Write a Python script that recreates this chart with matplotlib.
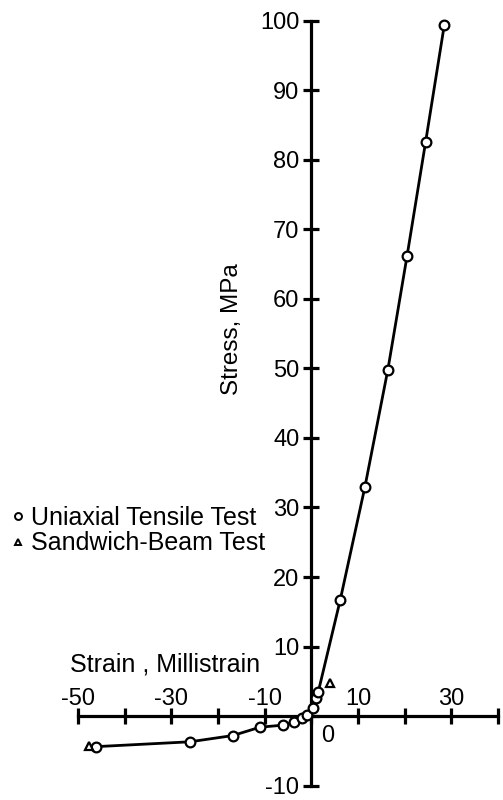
import numpy as np
import matplotlib
matplotlib.use("Agg")
import matplotlib.pyplot as plt
from matplotlib.lines import Line2D

plt.rcParams['font.family'] = ['Liberation Sans', 'DejaVu Sans']

# uniaxial tensile test (circles)
uni_strain = [-46.2, -26.0, -16.8, -11.0, -6.0, -3.8, -2.1, -1.0, 0.4, 1.1, 1.5,
              6.2, 11.5, 16.4, 20.5, 24.5, 28.5]
uni_stress = [-4.4, -3.7, -2.8, -1.6, -1.3, -0.9, -0.3, 0.2, 1.2, 2.6, 3.5,
              16.7, 33.0, 49.8, 66.1, 82.6, 99.4]

# sandwich-beam test (triangles)
beam_strain = [-47.6, 4.0]
beam_stress = [-4.3, 4.8]

xticks = [-50, -40, -30, -20, -10, 0, 10, 20, 30, 40]
xlabeled = [-50, -30, -10, 10, 30]
yticks = [-10, 0, 10, 20, 30, 40, 50, 60, 70, 80, 90, 100]
ylabeled = [-10, 10, 20, 30, 40, 50, 60, 70, 80, 90, 100]

fig = plt.figure(figsize=(5.03, 8), dpi=100)
ax = fig.add_axes([0.155, 0.018, 0.835, 0.956])
ax.set_xlim(-50, 40)
ax.set_ylim(-10, 100)

lw = 2.3
for s in ['left', 'bottom', 'top']:
    ax.spines[s].set_position(('data', 0))
    ax.spines[s].set_linewidth(lw)
ax.spines['top'].set_visible(False)
ax.spines['right'].set_visible(False)

ax.set_xticks(xticks)
ax.tick_params(axis='x', bottom=True, top=True, labelbottom=False, labeltop=True,
               direction='inout', width=lw, length=11, labelsize=17, pad=-1)
ax.set_xticklabels([str(t) if t in xlabeled else '' for t in xticks])
for t in ax.xaxis.get_major_ticks():
    t.tick2line.set_visible(False)

ax.set_yticks(yticks)
ax.set_yticklabels([str(t) if t in ylabeled else '' for t in yticks])
ax.tick_params(axis='y', direction='inout', width=lw, length=11, labelsize=17, pad=3)

ax.annotate('0', xy=(0, 0), xytext=(11.5, -14.5), textcoords='offset points',
            ha='center', va='center', fontsize=17)

ax.plot(uni_strain, uni_stress, color='black', lw=2, marker='o', ms=7,
        mfc='white', mec='black', mew=1.6, clip_on=False, zorder=3)
ax.plot(beam_strain, beam_stress, ls='none', marker='^', ms=6,
        mfc='white', mec='black', mew=1.6, clip_on=False, zorder=4)

ax.set_xlabel('Strain , Millistrain', fontsize=18, va='center')
ax.xaxis.set_label_coords(-31.3, 7.4, transform=ax.transData)
ax.set_ylabel('Stress, MPa', fontsize=17.5, va='center')
ax.yaxis.set_label_coords(-16.9, 55.7, transform=ax.transData)

handles = [Line2D([], [], ls='none', marker='o', ms=5, mfc='white', mec='black', mew=1.4),
           Line2D([], [], ls='none', marker='^', ms=5, mfc='white', mec='black', mew=1.4)]
fig.legend(handles, ['Uniaxial Tensile Test', 'Sandwich-Beam Test'],
           loc='upper left', bbox_to_anchor=(0.02, 1 - 506 / 800), frameon=False,
           fontsize=18, handlelength=0.6, handletextpad=0.25, labelspacing=0.05,
           borderpad=0, borderaxespad=0)

fig.savefig('out.png', dpi=100)
